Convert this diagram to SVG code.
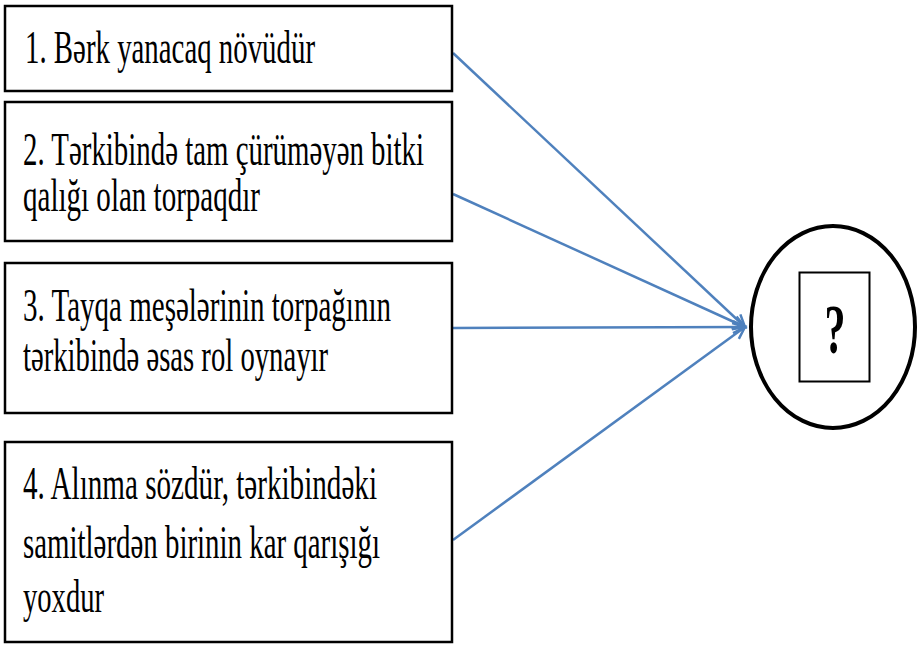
<svg xmlns="http://www.w3.org/2000/svg" width="918" height="645" viewBox="0 0 918 645">
  <style>
    .box { fill: #ffffff; stroke: #000000; stroke-width: 2.5; }
    .label { font-family: "Liberation Serif", "Times New Roman", serif; font-size: 46px; fill: #000000; }
    .link { stroke: #4F81BD; stroke-width: 2.5; fill: none; marker-end: url(#open-arrow); }
  </style>
  <defs>
    <marker id="open-arrow" markerUnits="userSpaceOnUse" markerWidth="16" markerHeight="16" refX="13" refY="7" orient="auto" viewBox="0 0 16 14">
      <path d="M1,1 L13,7 L1,13" fill="none" stroke="#4F81BD" stroke-width="2.5" stroke-linejoin="miter"/>
    </marker>
  </defs>

  <rect x="0" y="0" width="918" height="645" fill="#ffffff"/>

  <!-- connectors -->
  <g id="connectors">
    <line class="link" x1="453" y1="53" x2="745" y2="327"/>
    <line class="link" x1="453" y1="194" x2="745" y2="327"/>
    <line class="link" x1="453" y1="328" x2="745" y2="327"/>
    <line class="link" x1="453" y1="540" x2="745" y2="327"/>
  </g>

  <g id="node-1">
    <rect class="box" x="5" y="6" width="447" height="85"/>
    <text class="label" x="25" y="62.5" textLength="290" lengthAdjust="spacingAndGlyphs">1. Bərk yanacaq növüdür</text>
  </g>

  <g id="node-2">
    <rect class="box" x="5" y="102" width="447" height="139"/>
    <text class="label" x="23" y="165" textLength="401" lengthAdjust="spacingAndGlyphs">2. Tərkibində tam çürüməyən bitki</text>
    <text class="label" x="23" y="211" textLength="237" lengthAdjust="spacingAndGlyphs">qalığı olan torpaqdır</text>
  </g>

  <g id="node-3">
    <rect class="box" x="5" y="263" width="447" height="150"/>
    <text class="label" x="23" y="321" textLength="368" lengthAdjust="spacingAndGlyphs">3. Tayqa meşələrinin torpağının</text>
    <text class="label" x="23" y="371" textLength="305" lengthAdjust="spacingAndGlyphs">tərkibində əsas rol oynayır</text>
  </g>

  <g id="node-4">
    <rect class="box" x="5" y="442" width="447" height="200"/>
    <text class="label" x="23" y="499" textLength="354" lengthAdjust="spacingAndGlyphs">4. Alınma sözdür, tərkibindəki</text>
    <text class="label" x="23" y="558" textLength="357" lengthAdjust="spacingAndGlyphs">samitlərdən birinin kar qarışığı</text>
    <text class="label" x="23" y="612" textLength="81" lengthAdjust="spacingAndGlyphs">yoxdur</text>
  </g>

  <g id="answer">
    <ellipse cx="833" cy="327" rx="82" ry="101" fill="#ffffff" stroke="#000000" stroke-width="4"/>
    <rect x="799.5" y="272.5" width="70" height="109" fill="#ffffff" stroke="#000000" stroke-width="2"/>
    <text transform="translate(835,353) scale(0.6,1)" text-anchor="middle" font-family="Liberation Serif, Times New Roman, serif" font-size="70" font-weight="bold">?</text>
  </g>
</svg>
